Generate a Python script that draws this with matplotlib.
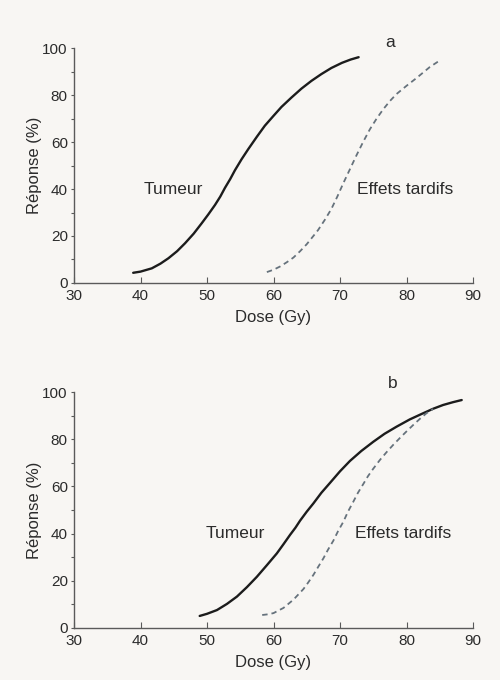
import matplotlib
matplotlib.use("Agg")
import matplotlib.pyplot as plt

# Panel a
dose_tumeur_a = [38.9, 40.0, 41.7, 43.0, 44.2, 45.5, 46.7, 48.0, 49.2, 50.2, 51.2, 52.0, 52.7, 53.5, 54.2, 55.2, 56.2, 57.5, 58.7, 60.0, 61.2, 62.7, 64.2, 65.7, 67.2, 68.7, 70.3, 71.6, 72.8]
resp_tumeur_a = [4.3, 4.8, 6.2, 8.2, 10.5, 13.5, 16.9, 21.0, 25.4, 29.2, 33.2, 36.8, 40.5, 44.3, 48.0, 52.7, 57.0, 62.3, 67.0, 71.2, 75.0, 79.0, 82.8, 86.1, 89.0, 91.6, 93.8, 95.2, 96.2]
dose_tardifs_a = [59.0, 60.0, 61.0, 62.0, 63.0, 64.0, 65.0, 66.0, 66.7, 67.7, 68.7, 69.6, 70.5, 71.5, 72.5, 73.5, 74.5, 75.5, 76.5, 77.5, 78.5, 80.0, 81.5, 83.5, 85.0]
resp_tardifs_a = [4.6, 5.6, 7.0, 8.8, 10.8, 13.5, 16.5, 20.0, 22.5, 26.8, 31.5, 36.8, 42.5, 48.5, 54.5, 60.2, 65.5, 70.0, 74.0, 77.5, 80.5, 84.0, 87.3, 92.0, 94.8]

# Panel b
dose_tumeur_b = [48.9, 50.0, 51.5, 53.0, 54.5, 56.0, 57.5, 59.0, 60.5, 61.5, 62.5, 63.3, 64.0, 65.0, 66.0, 67.2, 68.5, 70.0, 71.5, 73.2, 75.0, 76.7, 78.5, 80.5, 82.5, 84.0, 85.5, 87.0, 88.3]
resp_tumeur_b = [5.1, 6.0, 7.6, 10.2, 13.3, 17.3, 21.7, 26.6, 31.6, 35.5, 39.5, 42.5, 45.5, 49.3, 52.8, 57.3, 61.5, 66.4, 70.8, 75.0, 78.9, 82.3, 85.3, 88.4, 91.0, 92.9, 94.5, 95.7, 96.6]
dose_tardifs_b = [58.3, 59.2, 60.0, 61.5, 63.0, 64.5, 65.2, 66.0, 66.7, 67.5, 68.2, 69.0, 69.7, 70.5, 71.2, 72.0, 72.7, 73.5, 74.2, 75.0, 76.0, 77.0, 78.0, 79.0, 80.0, 81.0, 82.0, 83.0, 84.0]
resp_tardifs_b = [5.5, 5.8, 6.3, 8.5, 12.0, 16.5, 19.2, 22.5, 25.8, 29.5, 33.2, 37.0, 41.0, 45.0, 49.3, 53.5, 57.3, 61.0, 64.3, 67.5, 71.2, 74.5, 77.6, 80.5, 83.3, 86.0, 88.6, 91.0, 92.8]

x_ticks = [30, 40, 50, 60, 70, 80, 90]
y_ticks = [0, 20, 40, 60, 80, 100]
x_label = "Dose (Gy)"
y_label = "Réponse (%)"
panel_letters = ["a", "b"]
curve_names = ["Tumeur", "Effets tardifs"]

bg = "#f8f6f3"
axcol = "#5a5a5a"
txtcol = "#2b2b2b"
solid_col = "#1c1c1c"
dash_col = "#66727c"

plt.rcParams['font.family'] = ['Liberation Sans', 'DejaVu Sans']

fig = plt.figure(figsize=(5.0, 6.8), dpi=100, facecolor=bg)
ax_a = fig.add_axes([0.148, 0.584, 0.798, 0.345])
ax_b = fig.add_axes([0.148, 0.0765, 0.798, 0.347])

panels = [
    (ax_a, dose_tumeur_a, resp_tumeur_a, dose_tardifs_a, resp_tardifs_a,
     (44.9, 40), (79.8, 40), (77.5, 102.5)),
    (ax_b, dose_tumeur_b, resp_tumeur_b, dose_tardifs_b, resp_tardifs_b,
     (54.2, 40), (79.5, 40), (77.9, 103.5)),
]

for i, (ax, xt, yt, xd, yd, pos_t, pos_d, pos_l) in enumerate(panels):
    ax.set_facecolor(bg)
    ax.plot(xt, yt, color=solid_col, lw=1.7, solid_capstyle='round', solid_joinstyle='round')
    ax.plot(xd, yd, color=dash_col, lw=1.3, linestyle=(0, (3.0, 2.2)))
    ax.set_xlim(30, 90)
    ax.set_ylim(0, 100)
    ax.set_xticks(x_ticks)
    ax.set_yticks(y_ticks)
    ax.set_yticks(list(range(10, 100, 20)), minor=True)
    for s in ["top", "right"]:
        ax.spines[s].set_visible(False)
    for s in ["left", "bottom"]:
        ax.spines[s].set_color(axcol)
        ax.spines[s].set_linewidth(1.0)
    ax.tick_params(axis='x', direction='in', length=4, width=0.8, color=axcol,
                   labelsize=11, labelcolor=txtcol, pad=4.5)
    ax.tick_params(axis='y', which='both', direction='out', length=2.5, width=0.8, color=axcol,
                   labelsize=11, labelcolor=txtcol, pad=2)
    ax.set_xlabel(x_label, fontsize=12, color=txtcol, labelpad=5)
    ax.set_ylabel(y_label, fontsize=12, color=txtcol, labelpad=0.5)
    ax.text(pos_t[0], pos_t[1], curve_names[0], fontsize=12.5, color=txtcol,
            ha='center', va='center')
    ax.text(pos_d[0], pos_d[1], curve_names[1], fontsize=12.5, color=txtcol,
            ha='center', va='center')
    ax.text(pos_l[0], pos_l[1], panel_letters[i], fontsize=12.5, color=txtcol,
            ha='center', va='center', clip_on=False)

fig.savefig("out.png", dpi=100, facecolor=bg)
